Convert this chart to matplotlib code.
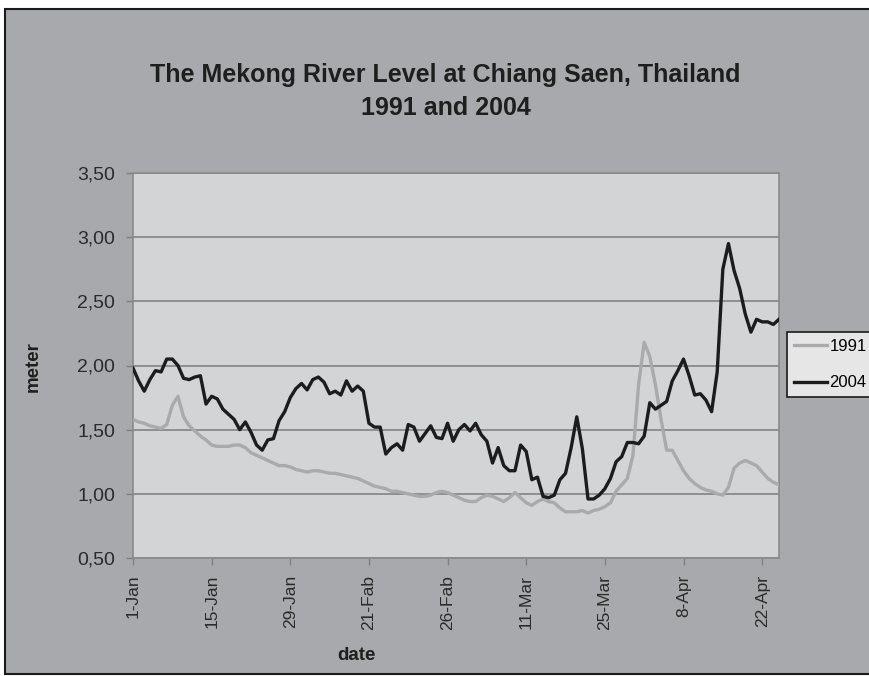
import matplotlib
matplotlib.use('Agg')
import matplotlib.pyplot as plt
from matplotlib.patches import Rectangle

# river level (meter), one value per day starting 1-Jan
level_1991 = [1.58, 1.56, 1.55, 1.53, 1.52, 1.51, 1.54, 1.69, 1.76, 1.60,
              1.53, 1.49, 1.45, 1.42, 1.38, 1.37, 1.37, 1.37, 1.38, 1.38,
              1.36, 1.32, 1.30, 1.28, 1.26, 1.24, 1.22, 1.22, 1.21, 1.19,
              1.18, 1.17, 1.18, 1.18, 1.17, 1.16, 1.16, 1.15, 1.14, 1.13,
              1.12, 1.10, 1.08, 1.06, 1.05, 1.04, 1.02, 1.02, 1.01, 1.00,
              0.99, 0.98, 0.98, 0.99, 1.01, 1.02, 1.01, 0.99, 0.97, 0.95,
              0.94, 0.94, 0.97, 0.99, 0.98, 0.96, 0.94, 0.97, 1.01, 0.97,
              0.93, 0.91, 0.94, 0.96, 0.94, 0.93, 0.89, 0.86, 0.86, 0.86,
              0.87, 0.85, 0.87, 0.88, 0.90, 0.93, 1.02, 1.07, 1.12, 1.30,
              1.85, 2.18, 2.07, 1.85, 1.58, 1.34, 1.34, 1.26, 1.18, 1.12,
              1.08, 1.05, 1.03, 1.02, 1.00, 0.99, 1.05, 1.20, 1.24, 1.26,
              1.24, 1.22, 1.17, 1.12, 1.09, 1.07]

level_2004 = [1.98, 1.88, 1.80, 1.89, 1.96, 1.95, 2.05, 2.05, 2.00, 1.90,
              1.89, 1.91, 1.92, 1.70, 1.76, 1.74, 1.66, 1.62, 1.58, 1.50,
              1.56, 1.48, 1.38, 1.34, 1.42, 1.43, 1.57, 1.64, 1.75, 1.82,
              1.86, 1.81, 1.89, 1.91, 1.87, 1.78, 1.80, 1.77, 1.88, 1.80,
              1.84, 1.80, 1.55, 1.52, 1.52, 1.31, 1.36, 1.39, 1.34, 1.54,
              1.52, 1.41, 1.47, 1.53, 1.44, 1.43, 1.55, 1.41, 1.50, 1.54,
              1.49, 1.55, 1.46, 1.41, 1.24, 1.36, 1.22, 1.18, 1.18, 1.38,
              1.33, 1.11, 1.13, 0.98, 0.97, 0.99, 1.11, 1.16, 1.36, 1.60,
              1.35, 0.96, 0.96, 0.99, 1.04, 1.12, 1.25, 1.29, 1.40, 1.40,
              1.39, 1.45, 1.71, 1.66, 1.69, 1.72, 1.88, 1.96, 2.05, 1.92,
              1.77, 1.78, 1.73, 1.64, 1.95, 2.75, 2.95, 2.74, 2.60, 2.40,
              2.26, 2.36, 2.34, 2.34, 2.32, 2.36]

tick_days = [0, 14, 28, 42, 56, 70, 84, 98, 112]
tick_labels = ['1-Jan', '15-Jan', '29-Jan', '21-Fab', '26-Fab',
               '11-Mar', '25-Mar', '8-Apr', '22-Apr']
y_ticks = [0.5, 1.0, 1.5, 2.0, 2.5, 3.0, 3.5]

PLAIN = ['Liberation Sans', 'DejaVu Sans']
INK = '#1e1e1e'


def main():
    fig = plt.figure(figsize=(8.7, 6.76), dpi=100, facecolor='white')
    fig.patches.append(Rectangle((5 / 870, 0.003), 1.0, 1 - 9 / 676 - 0.003,
                                 transform=fig.transFigure, facecolor='#a8a9ac',
                                 edgecolor='#1a1a1a', linewidth=1.5, zorder=-10))

    ax = fig.add_axes([133 / 870, 1 - 558 / 676, (779 - 133) / 870, (558 - 173) / 676])
    ax.set_facecolor('#d3d4d6')

    days = list(range(len(level_1991)))
    ax.plot(days, level_1991, color='#a9aaac', lw=2.4, label='1991', zorder=3)
    ax.plot(days, level_2004, color='#1c1c1c', lw=2.4, label='2004', zorder=4)

    ax.set_xlim(0, len(days) - 1)
    ax.set_ylim(0.5, 3.5)
    ax.set_yticks(y_ticks)
    ax.set_yticklabels([('%.2f' % v).replace('.', ',') for v in y_ticks],
                       family=PLAIN, fontsize=14, color='#2a2a2a')
    ax.set_xticks(tick_days)
    ax.set_xticklabels(tick_labels, rotation=90, family=PLAIN, fontsize=12.5, color='#2a2a2a')
    ax.tick_params(axis='y', length=5, width=1, color='#808080', pad=8)
    ax.tick_params(axis='x', length=5, width=1, color='#808080', pad=7)
    ax.grid(axis='y', color='#838383', lw=1.2)
    ax.set_axisbelow(True)
    for s in ax.spines.values():
        s.set_color('#8a8a8a')
        s.set_linewidth(1.2)

    fig.text(0.512, 1 - 75 / 676, 'The Mekong River Level at Chiang Saen, Thailand',
             ha='center', va='center', family=PLAIN, fontweight='bold', fontsize=18,
             color=INK)
    fig.text(0.512, 1 - 108 / 676, '1991 and 2004', ha='center', va='center',
             family=PLAIN, fontweight='bold', fontsize=18, color=INK)
    fig.text(33 / 870, 1 - 367 / 676, 'meter', rotation=90, ha='center', va='center',
             family=PLAIN, fontweight='bold', fontsize=13.5, color=INK)
    fig.text(356 / 870, 1 - 655 / 676, 'date', ha='center', va='center',
             family=PLAIN, fontweight='bold', fontsize=13.5, color=INK)

    leg = ax.legend(loc='upper left', bbox_to_anchor=(787 / 870, 1 - 332 / 676),
                    bbox_transform=fig.transFigure, frameon=True, fancybox=False,
                    prop={'family': PLAIN, 'size': 12}, handlelength=2.0,
                    handletextpad=0.15, borderpad=0.4, labelspacing=1.3,
                    borderaxespad=0)
    leg._legend_box.align = 'left'
    leg.get_frame().set_facecolor('#e6e6e6')
    leg.get_frame().set_edgecolor('#1a1a1a')
    leg.get_frame().set_linewidth(1.2)
    leg.get_frame().set_alpha(1)

    fig.savefig('out.png', dpi=100, facecolor=fig.get_facecolor())


if __name__ == '__main__':
    main()
